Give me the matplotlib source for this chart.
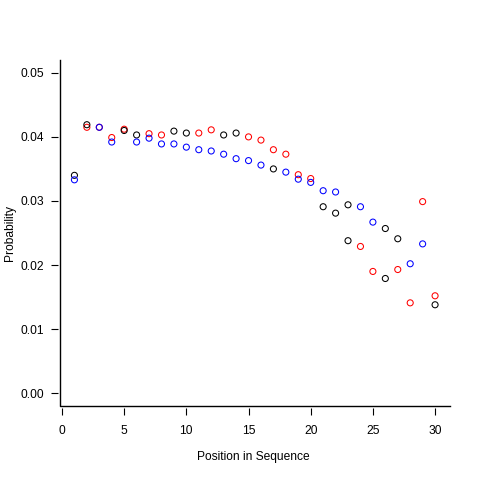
import matplotlib
matplotlib.use('Agg')
import matplotlib.pyplot as plt
from matplotlib.lines import Line2D

# Positions along the sequence
positions = list(range(1, 31))

# First series (drawn first)
probs_a = [0.0340, 0.0415, 0.0415, 0.0399, 0.0412, 0.0403, 0.0405, 0.0403, 0.0409, 0.0406,
           0.0406, 0.0411, 0.0403, 0.0406, 0.0400, 0.0395, 0.0380, 0.0373, 0.0341, 0.0335,
           0.0291, 0.0281, 0.0238, 0.0229, 0.0190, 0.0179, 0.0193, 0.0141, 0.0299, 0.0152]
colors_a = ['black', 'red', 'red', 'red', 'red', 'black', 'red', 'red', 'black', 'black',
            'red', 'red', 'black', 'black', 'red', 'red', 'red', 'red', 'red', 'red',
            'black', 'black', 'black', 'red', 'red', 'black', 'red', 'red', 'red', 'red']

# Second series (drawn on top)
probs_b = [0.0333, 0.0419, 0.0415, 0.0392, 0.0410, 0.0392, 0.0398, 0.0389, 0.0389, 0.0384,
           0.0380, 0.0378, 0.0373, 0.0366, 0.0363, 0.0356, 0.0350, 0.0345, 0.0334, 0.0329,
           0.0316, 0.0314, 0.0294, 0.0291, 0.0267, 0.0257, 0.0241, 0.0202, 0.0233, 0.0138]
colors_b = ['blue', 'black', 'blue', 'blue', 'black', 'blue', 'blue', 'blue', 'blue', 'blue',
            'blue', 'blue', 'blue', 'blue', 'blue', 'blue', 'black', 'blue', 'blue', 'blue',
            'blue', 'blue', 'black', 'blue', 'blue', 'black', 'black', 'blue', 'blue', 'black']

x_ticks = [0, 5, 10, 15, 20, 25, 30]
y_ticks = [0.00, 0.01, 0.02, 0.03, 0.04, 0.05]


def plot_probabilities():
    plt.rcParams['font.family'] = ['Liberation Sans', 'DejaVu Sans']
    fs = 8.64

    fig = plt.figure(figsize=(4.8, 4.8), dpi=100)
    ax = fig.add_axes([60 / 480, 1 - 406 / 480, 389.5 / 480, 346 / 480])

    ax.scatter(positions, probs_a, s=19, facecolors='none', edgecolors=colors_a,
               linewidths=0.75, clip_on=False, zorder=3)
    ax.scatter(positions, probs_b, s=19, facecolors='none', edgecolors=colors_b,
               linewidths=0.75, clip_on=False, zorder=4)

    ax.set_xlim(-0.16, 31.16)
    ax.set_ylim(-0.002, 0.052)
    ax.set_xticks(x_ticks)
    ax.set_xticklabels([str(t) for t in x_ticks])
    ax.set_yticks(y_ticks)
    ax.set_yticklabels([f'{t:.2f}' for t in y_ticks])

    # R-style: ticks sit a little away from the L-shaped box
    for side in ['top', 'right']:
        ax.spines[side].set_visible(False)
    for side in ['left', 'bottom']:
        ax.spines[side].set_position(('outward', 1.2))
        ax.spines[side].set_color('none')
    ax.tick_params(direction='out', length=5, width=0.8, color='black',
                   labelsize=fs)
    ax.tick_params(axis='y', pad=5.3)
    ax.tick_params(axis='x', pad=7.5)

    # L box
    ax.add_line(Line2D([0, 0, 1], [1, 0, 0], transform=ax.transAxes, color='black',
                       linewidth=1.0, clip_on=False))

    fig.text(253.5 / 480, 1 - 457 / 480, 'Position in Sequence', ha='center', va='center',
             fontsize=fs)
    fig.text(10 / 480, 1 - 233 / 480, 'Probability', ha='center', va='center',
             rotation=90, fontsize=fs)
    return fig


if __name__ == "__main__":
    fig = plot_probabilities()
    fig.savefig('out.png', dpi=100)
